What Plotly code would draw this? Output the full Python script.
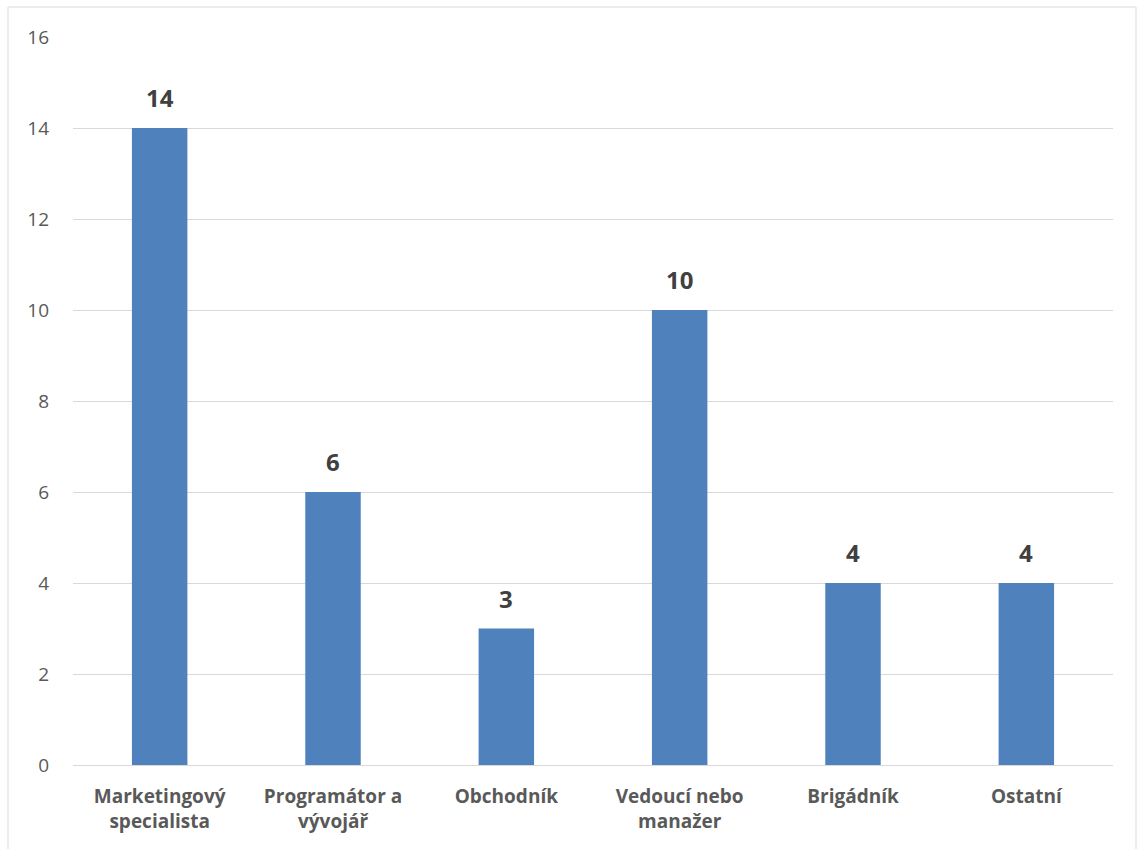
import plotly.graph_objects as go

categories = ["Marketingový<br>specialista", "Programátor a<br>vývojář", "Obchodník",
              "Vedoucí nebo<br>manažer", "Brigádník", "Ostatní"]
values = [14, 6, 3, 10, 4, 4]
y_ticks = [0, 2, 4, 6, 8, 10, 12, 14, 16]

FONT = "Open Sans, Lato, sans-serif"

fig = go.Figure(go.Bar(
    x=categories, y=values,
    marker=dict(color="#4F81BD", line=dict(width=0)),
    hoverinfo="x+y",
))

for c, v in zip(categories, values):
    fig.add_annotation(x=c, y=v, text=str(v), showarrow=False, yanchor="bottom",
                       yshift=12, font=dict(family=FONT, size=24, color="#404040", weight="bold"))

W, H = 1141, 849
ml, mr, mt, mb = 73, 28, 37, 84
pw, ph = W - ml - mr, H - mt - mb
fig.update_layout(
    width=W, height=H,
    margin=dict(l=ml, r=mr, t=mt, b=mb),
    paper_bgcolor="white", plot_bgcolor="white",
    bargap=0.68,
    showlegend=False,
    font=dict(family=FONT, color="#595959"),
    xaxis=dict(showgrid=False, showline=True, linecolor="#D9D9D9", linewidth=1,
               tickfont=dict(family=FONT, size=19, color="#595959", weight="bold"), ticks="",
               ticklabelstandoff=14),
    yaxis=dict(range=[0, 16], tickvals=y_ticks, showgrid=True, gridcolor="#D9D9D9",
               gridwidth=1, zeroline=False, tickfont=dict(family=FONT, size=19, color="#595959"),
               ticks="", ticklabelstandoff=23),
    shapes=[dict(type="rect", xref="paper", yref="paper",
                 x0=(8 - ml) / pw, x1=(1136 - ml) / pw,
                 y0=-(mb + 10) / ph, y1=1 + (mt - 7) / ph,
                 line=dict(color="#D9D9D9", width=1), fillcolor="rgba(0,0,0,0)", layer="below")],
)
fig.write_html("out.html")
